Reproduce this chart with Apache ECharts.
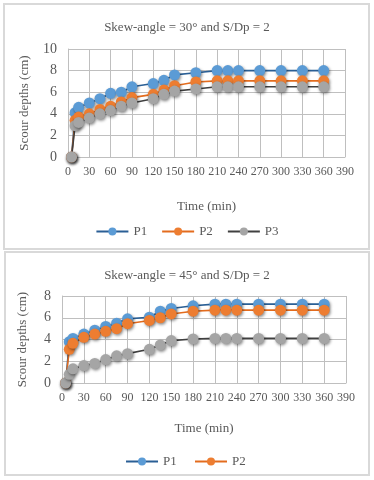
<!DOCTYPE html>
<html>
<head>
<meta charset="utf-8">
<script src="https://cdn.jsdelivr.net/npm/echarts@6/dist/echarts.min.js"></script>
<style>
    html, body { margin: 0; padding: 0; background: #fff; }
    #kg { width: 374px; height: 480px; }
</style>
</head>
<body>
<div id="kg"></div>
<script>
// time in minutes, shared by both panels
var times = [5, 10, 15, 30, 45, 60, 75, 90, 120, 135, 150, 180, 210, 225, 240, 270, 300, 330, 360];

// skew-angle 30
var p1_30 = [0, 4.1, 4.6, 5.0, 5.4, 5.9, 6.0, 6.5, 6.8, 7.1, 7.6, 7.8, 8.0, 8.0, 8.0, 8.0, 8.0, 8.0, 8.0];
var p2_30 = [0, 3.4, 3.7, 4.0, 4.4, 4.7, 5.1, 5.5, 5.8, 6.2, 6.6, 6.95, 7.05, 7.05, 7.05, 7.05, 7.05, 7.05, 7.05];
var p3_30 = [0, 2.9, 3.2, 3.6, 4.0, 4.3, 4.7, 5.0, 5.4, 5.8, 6.1, 6.3, 6.5, 6.5, 6.5, 6.5, 6.5, 6.5, 6.5];

// skew-angle 45
var p1_45 = [0, 3.8, 4.1, 4.5, 4.85, 5.2, 5.5, 5.9, 6.05, 6.6, 6.85, 7.1, 7.25, 7.25, 7.25, 7.25, 7.25, 7.25, 7.25];
var p2_45 = [0, 3.1, 3.65, 4.2, 4.5, 4.75, 5.0, 5.45, 5.75, 6.0, 6.35, 6.6, 6.7, 6.7, 6.7, 6.7, 6.7, 6.7, 6.7];
var p3_45 = [0, 0.8, 1.3, 1.6, 1.8, 2.15, 2.5, 2.7, 3.1, 3.5, 3.9, 4.05, 4.1, 4.1, 4.1, 4.1, 4.1, 4.1, 4.1];

var xTicks = [0, 30, 60, 90, 120, 150, 180, 210, 240, 270, 300, 330, 360, 390];

var font = 'Liberation Serif';
var txt = '#595959';
var gridCol = '#bfbfbf';

function pairs(ys) {
    return times.map(function (t, i) { return [t, ys[i]]; });
}

function mkSeries(name, ys, idx, lineCol, dotCol) {
    return {
        name: name,
        type: 'line',
        xAxisIndex: idx,
        yAxisIndex: idx,
        data: pairs(ys),
        symbol: 'circle',
        symbolSize: 11,
        showAllSymbol: true,
        animation: false,
        lineStyle: { color: lineCol, width: 1.6 },
        itemStyle: {
            color: dotCol,
            borderWidth: 0,
            shadowBlur: 3,
            shadowColor: 'rgba(0,0,0,0.45)',
            shadowOffsetX: 1,
            shadowOffsetY: 1.5
        }
    };
}

function xAxis(idx, gap) {
    return {
        type: 'value',
        gridIndex: idx,
        min: 0,
        max: 390,
        interval: 30,
        name: 'Time (min)',
        nameLocation: 'middle',
        nameGap: gap,
        nameTextStyle: { fontFamily: font, fontSize: 13, color: txt },
        axisLine: { show: true, lineStyle: { color: gridCol } },
        axisTick: { show: false },
        axisLabel: {
            fontFamily: font, fontSize: 12, color: txt, margin: 9,
            formatter: function (v) { return xTicks.indexOf(v) >= 0 ? String(v) : ''; }
        },
        splitLine: { show: true, lineStyle: { color: gridCol, width: 1 } }
    };
}

function yAxis(idx, max, gap) {
    return {
        type: 'value',
        gridIndex: idx,
        min: 0,
        max: max,
        interval: 2,
        name: 'Scour depths (cm)',
        nameLocation: 'middle',
        nameRotate: 90,
        nameGap: gap,
        nameTextStyle: { fontFamily: font, fontSize: 13, color: txt },
        axisLine: { show: true, lineStyle: { color: gridCol } },
        axisTick: { show: false },
        axisLabel: { fontFamily: font, fontSize: 14, color: txt, margin: 11 },
        splitLine: { show: true, lineStyle: { color: gridCol, width: 1 } }
    };
}

var dom = document.getElementById("kg");
var myChart = echarts.init(dom);

myChart.setOption({
    backgroundColor: '#fff',
    animation: false,
    title: [
        {
            text: 'Skew-angle = 30° and S/Dp = 2',
            left: 'center', top: 16,
            textStyle: { fontFamily: font, fontSize: 13, fontWeight: 'normal', color: txt }
        },
        {
            text: 'Skew-angle = 45° and S/Dp = 2',
            left: 'center', top: 264,
            textStyle: { fontFamily: font, fontSize: 13, fontWeight: 'normal', color: txt }
        }
    ],
    legend: [
        {
            data: ['P1', 'P2', 'P3'],
            top: 220, left: 'center',
            itemWidth: 32, itemHeight: 10, itemGap: 14,
            textStyle: { fontFamily: font, fontSize: 13, color: txt }
        },
        {
            data: ['P1 ', 'P2 '],
            top: 450, left: 'center',
            itemWidth: 32, itemHeight: 10, itemGap: 14,
            textStyle: { fontFamily: font, fontSize: 13, color: txt }
        }
    ],
    grid: [
        { left: 68, right: 29, top: 49, height: 108 },
        { left: 62, right: 28, top: 296, height: 87 }
    ],
    xAxis: [xAxis(0, 43), xAxis(1, 39)],
    yAxis: [yAxis(0, 10, 37), yAxis(1, 8, 33)],
    graphic: [
        {
            type: 'rect', silent: true,
            shape: { x: 4, y: 4, width: 365, height: 245 },
            style: { fill: 'none', stroke: '#d9d9d9', lineWidth: 2 }
        },
        {
            type: 'rect', silent: true,
            shape: { x: 5, y: 252, width: 364, height: 223 },
            style: { fill: 'none', stroke: '#d9d9d9', lineWidth: 2 }
        }
    ],
    series: [
        mkSeries('P1', p1_30, 0, '#2a5f95', '#5b9bd5'),
        mkSeries('P2', p2_30, 0, '#e36c1e', '#ed7d31'),
        mkSeries('P3', p3_30, 0, '#404040', '#a5a5a5'),
        mkSeries('P1 ', p1_45, 1, '#2a5f95', '#5b9bd5'),
        mkSeries('P2 ', p2_45, 1, '#e36c1e', '#ed7d31'),
        mkSeries('P3 ', p3_45, 1, '#404040', '#a5a5a5')
    ]
});
</script>
</body>
</html>
